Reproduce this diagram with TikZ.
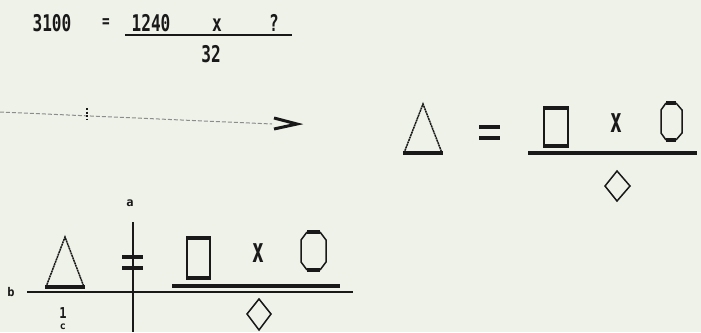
\documentclass[tikz,border=0pt]{standalone}
\usepackage{fontspec}
\newfontfamily\dm{DejaVu Sans Mono}
\usetikzlibrary{arrows.meta}
\definecolor{paper}{RGB}{239,242,233}
\definecolor{ink}{RGB}{25,25,25}
\tikzset{
  numtxt/.style={inner sep=0pt, text=ink, font=\dm\bfseries\fontsize{23}{23}\selectfont},
  smalltxt/.style={inner sep=0pt, text=ink, font=\dm\bfseries\fontsize{12}{12}\selectfont},
  thin/.style={draw=ink, line width=1.5pt},
  thick/.style={draw=ink, line width=3.2pt},
  bar/.style={draw=ink, line width=3.4pt},
}
\begin{document}
\begin{tikzpicture}[x=1pt,y=-1pt]
\fill[paper] (0,0) rectangle (701,332);
\useasboundingbox (0,0) rectangle (701,332);
\clip (0,0) rectangle (701,332);
% top equation
\node[numtxt] (n3100) at (52,23) {\scalebox{0.7}[1]{3100}};
\node[numtxt] (eqtop) at (106,23) {\scalebox{0.55}[0.8]{=}};
\node[numtxt] (n1240) at (151,23) {\scalebox{0.7}[1]{1240}};
\node[numtxt] (xtop) at (217,25) {\scalebox{0.7}[1]{x}};
\node[numtxt] (qtop) at (274,23) {\scalebox{0.7}[1]{?}};
\coordinate (fl1) at (125,35);
\coordinate (fl2) at (292,35);
\draw[draw=ink, line width=2.2pt] (fl1) -- (fl2);
\node[numtxt] (n32) at (211,54) {\scalebox{0.7}[1]{32}};
% arrow
\coordinate (ar1) at (0,112);
\coordinate (ar2) at (272,124);
\coordinate (tipa) at (274,118);
\coordinate (tip) at (297,124);
\coordinate (tipb) at (274,129);
\draw[draw=gray!90, line width=1pt, dash pattern=on 4pt off 2pt] (ar1) -- (ar2);
\draw[draw=ink, line width=3pt, line join=miter] (tipa) -- (tip) -- (tipb);
\draw[draw=ink, line width=1.6pt, dash pattern=on 2pt off 1.5pt] (87,108) -- (87,119);
% right equation
\draw[thin, dash pattern=on 2pt off 0.6pt] (404,153) -- (423,104) -- (442,153);
\draw[thick] (403,153) -- (443,153);
\draw[bar] (479,127) -- (500,127);
\draw[bar] (479,138) -- (500,138);
\draw[thin] (544,108) -- (544,146);
\draw[thin] (568,108) -- (568,146);
\draw[thick] (543,108) -- (569,108);
\draw[thick] (543,146) -- (569,146);
\node[numtxt] (xright) at (616,123) {\scalebox{0.85}[1.5]{x}};
\draw[thin] (666,103) -- (661,110) -- (661,133) -- (666,140) (676,103) -- (682,110) -- (682,133) -- (676,140);
\draw[thick] (666,103) -- (676,103);
\draw[thick] (666,140) -- (676,140);
\draw[draw=ink, line width=3.4pt] (528,153) -- (697,153);
\draw[thin] (617,171) -- (630,186) -- (617,201) -- (605,186) -- cycle;
% bottom diagram
\node[smalltxt] (la) at (130,203) {a};
\node[smalltxt] (lb) at (11,292) {b};
\node[smalltxt] (l1) at (63,313) {\scalebox{1}[1.25]{1}};
\node[smalltxt, font=\dm\bfseries\fontsize{10}{10}\selectfont] (lc) at (63,327) {c};
\coordinate (v1) at (133,222);
\coordinate (v2) at (133,332);
\draw[draw=ink, line width=1.5pt] (v1) -- (v2);
\coordinate (h1) at (27,292);
\coordinate (h2) at (353,292);
\draw[draw=ink, line width=1.6pt] (h1) -- (h2);
\draw[draw=ink, line width=3.2pt] (172,286) -- (340,286);
\draw[thin, dash pattern=on 2pt off 0.6pt] (46,287) -- (65,237) -- (84,287);
\draw[thick] (45,287) -- (85,287);
\draw[bar] (122,257) -- (143,257);
\draw[bar] (122,268) -- (143,268);
\draw[thin] (187,238) -- (187,278);
\draw[thin] (210,238) -- (210,278);
\draw[thick] (186,238) -- (211,238);
\draw[thick] (186,278) -- (211,278);
\node[numtxt] (xbot) at (258,253) {\scalebox{0.85}[1.5]{x}};
\draw[thin] (307,232) -- (301,240) -- (301,262) -- (307,270) (320,232) -- (326,240) -- (326,262) -- (320,270);
\draw[thick] (307,232) -- (320,232);
\draw[thick] (307,270) -- (320,270);
\draw[thin] (259,299) -- (271,314) -- (259,330) -- (247,314) -- cycle;
\end{tikzpicture}
\end{document}
